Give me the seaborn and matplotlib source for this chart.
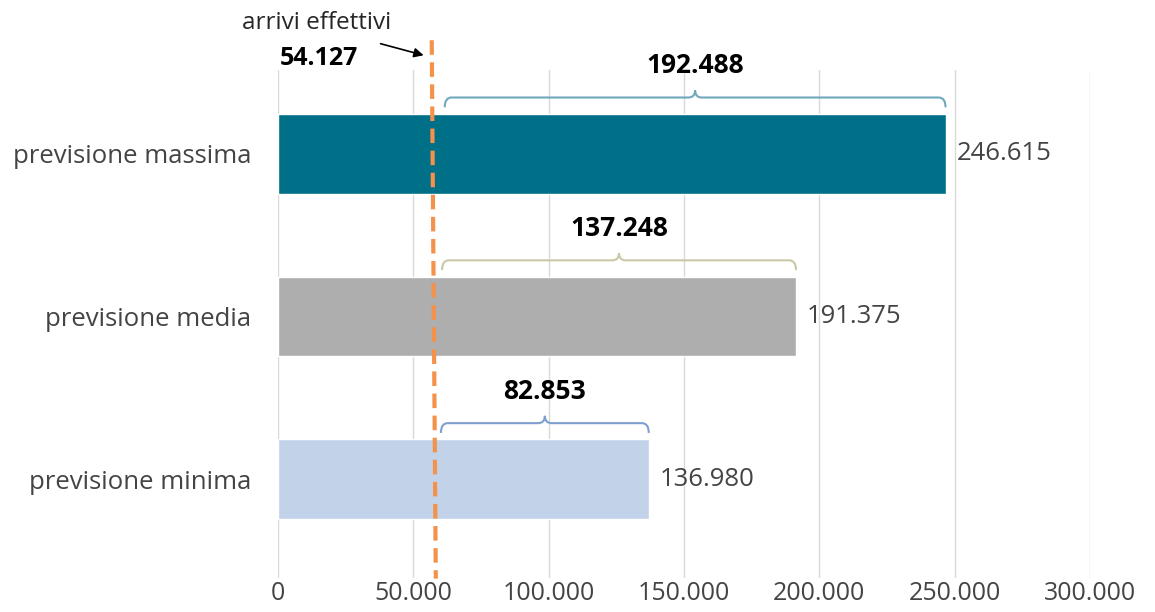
import matplotlib.pyplot as plt
import seaborn as sns
from matplotlib.path import Path
from matplotlib.patches import PathPatch

# data
categories = ["previsione massima", "previsione media", "previsione minima"]
values = [246615, 191375, 136980]
actual = 54127
x_ticks = [0, 50000, 100000, 150000, 200000, 250000, 300000]

bar_colors = ["#006F88", "#AEAEAE", "#C2D3E9"]
brace_colors = ["#6FA8BC", "#CBC8A8", "#7E9FCF"]


def fmt(v):
    return f"{v:,}".replace(",", ".")


sns.set_style("white")
plt.rcParams['font.family'] = ['Open Sans', 'DejaVu Sans']

fig, ax = plt.subplots(figsize=(11.55, 6.12), dpi=100)
fig.subplots_adjust(left=278 / 1155, right=1090 / 1155, top=1 - 70 / 612, bottom=1 - 578 / 612)

sns.barplot(x=values, y=categories, hue=categories, palette=bar_colors,
            legend=False, width=0.49, ax=ax, orient="h", saturation=1)

ax.set_xlim(0, 300000)
ax.set_ylim(2.606, -0.514)
ax.set_xticks(x_ticks)
ax.set_xticklabels([fmt(t) for t in x_ticks])
ax.tick_params(axis='x', length=0, pad=2, labelsize=18, labelcolor="#444444")
ax.tick_params(axis='y', length=0, pad=19, labelsize=18.5, labelcolor="#444444")
ax.set_xlabel("")
ax.set_ylabel("")
for s in ax.spines.values():
    s.set_visible(False)
ax.xaxis.grid(True, color="#D9D9D9", linewidth=1)
ax.set_axisbelow(True)

# value labels at bar ends
for i, v in enumerate(values):
    ax.annotate(fmt(v), (v, i), xytext=(8, 0), textcoords="offset points",
                va="center", ha="left", fontsize=18.5, color="#444444")

# braces showing the gap between forecast and actual
for i, v in enumerate(values):
    x0 = 61600 if i == 0 else 61000 - 400 * i
    x1 = v
    xc = (x0 + x1) / 2
    y_tip = i - 0.285
    y_line = i - 0.345
    y_peak = i - 0.39
    r = 2500
    verts = [
        (x0, y_tip), (x0, y_line), (x0 + r, y_line),
        (xc - r, y_line),
        (xc, y_line), (xc, y_peak),
        (xc, y_line), (xc + r, y_line),
        (x1 - r, y_line),
        (x1, y_line), (x1, y_tip),
    ]
    codes = [Path.MOVETO, Path.CURVE3, Path.CURVE3,
             Path.LINETO,
             Path.CURVE3, Path.CURVE3,
             Path.CURVE3, Path.CURVE3,
             Path.LINETO,
             Path.CURVE3, Path.CURVE3]
    ax.add_patch(PathPatch(Path(verts, codes), facecolor="none",
                           edgecolor=brace_colors[i], linewidth=1.5, clip_on=False))
    ax.text(xc, i - 0.54, fmt(v - actual), ha="center", va="center",
            fontsize=19, fontweight="bold", color="black")

# actual arrivals line (slightly slanted as in the source)
ax.plot([56800, 58300], [-0.697, 2.61], color="#F4914A", linewidth=3,
        linestyle=(0, (3.5, 1.8)), clip_on=False, zorder=5)

ax.text(14400, -0.80, "arrivi effettivi", ha="center", va="center",
        fontsize=17.5, color="#262626")
ax.text(700, -0.585, fmt(actual), ha="left", va="center",
        fontsize=18, fontweight="bold", color="black")
ax.annotate("", xy=(54800, -0.60), xytext=(36900, -0.68),
            arrowprops=dict(arrowstyle="-|>", color="black", lw=1.2,
                            mutation_scale=14), annotation_clip=False)

fig.savefig("out.png")
